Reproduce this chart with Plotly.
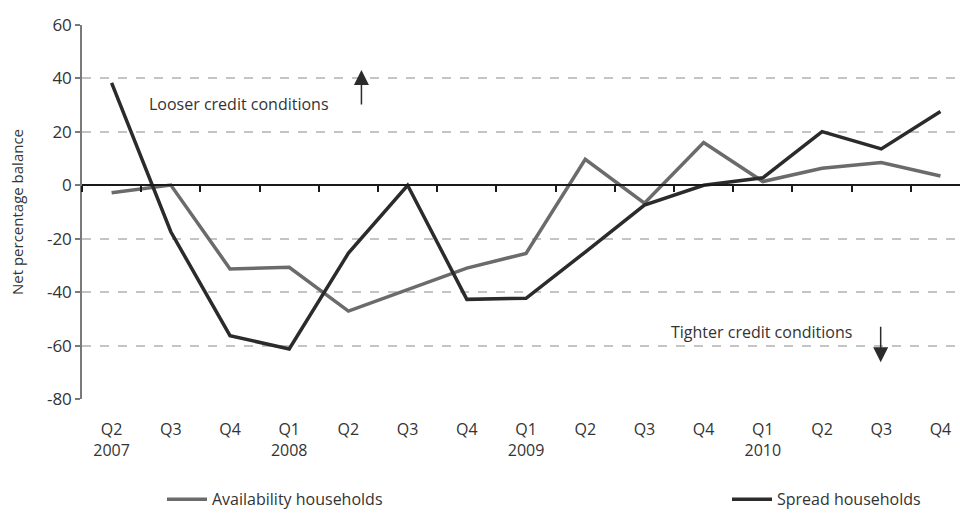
import plotly.graph_objects as go

# Survey quarters and year labels shown under them
quarters = ["Q2", "Q3", "Q4", "Q1", "Q2", "Q3", "Q4", "Q1", "Q2", "Q3", "Q4", "Q1", "Q2", "Q3", "Q4"]
years = ["2007", "", "", "2008", "", "", "", "2009", "", "", "", "2010", "", "", ""]

# Net percentage balances
availability = [-2.8, 0.1, -31.3, -30.7, -47.1, -38.9, -31.0, -25.5, 9.7, -6.7, 16.0, 1.4, 6.4, 8.5, 3.5]
spread = [38.3, -17.4, -56.3, -61.3, -25.4, 0.0, -42.7, -42.3, -25.0, -7.4, 0.0, 2.8, 20.1, 13.6, 27.6]

y_ticks = [-80, -60, -40, -20, 0, 20, 40, 60]

idx = list(range(len(quarters)))
ticktext = [q + ("<br>" + y if y else "<br> ") for q, y in zip(quarters, years)]

FONT = "Open Sans"
TXT = "#333333"
GREY = "#6b6b6b"
DARK = "#2b2b2b"

fig = go.Figure()

fig.add_trace(go.Scatter(
    x=idx, y=availability, mode="lines", name="Availability households",
    line=dict(color=GREY, width=3.5), legend="legend",
))
fig.add_trace(go.Scatter(
    x=idx, y=spread, mode="lines", name="Spread households",
    line=dict(color=DARK, width=3.5), legend="legend2",
))
# carrier for the zero-line axis with quarter boundary ticks
fig.add_trace(go.Scatter(
    x=idx, y=[0] * len(idx), xaxis="x2", mode="lines",
    line=dict(width=0), showlegend=False, hoverinfo="skip",
))

x_range = [-0.5, 14.33]
y_range = [-80, 60]
zero_pos = (0 - y_range[0]) / (y_range[1] - y_range[0])

fig.update_layout(
    width=960, height=513,
    margin=dict(l=82, r=0, t=25, b=114, autoexpand=False),
    paper_bgcolor="white", plot_bgcolor="white",
    font=dict(family=FONT, size=16, color=TXT),
    xaxis=dict(
        range=x_range, tickmode="array", tickvals=idx, ticktext=ticktext,
        showgrid=False, zeroline=False, showline=False, ticks="",
        tickfont=dict(size=16, color=TXT), ticklabelstandoff=19,
        automargin=False,
    ),
    xaxis2=dict(
        range=x_range, overlaying="x", anchor="free", position=zero_pos,
        side="bottom", showline=True, linecolor="#1a1a1a", linewidth=1.5,
        tickmode="array", tickvals=[i + 0.5 for i in idx[:-1]] + [-0.5],
        ticks="outside", ticklen=6, tickwidth=1.5, tickcolor="#1a1a1a",
        showticklabels=False, showgrid=False, zeroline=False, automargin=False,
    ),
    yaxis=dict(
        range=y_range, tickmode="array", tickvals=y_ticks,
        ticktext=[str(v) for v in y_ticks],
        showgrid=True, gridcolor="#c4c4c4",
        gridwidth=1.5, griddash="dash", zeroline=False,
        showline=True, linecolor="#7a7a7a", linewidth=1.5,
        ticks="outside", ticklen=5, tickcolor="#7a7a7a", tickwidth=1.5,
        tickfont=dict(size=17, color=TXT), automargin=False,
        title=dict(text="Net percentage balance", font=dict(size=15, color=TXT), standoff=20),
    ),
    legend=dict(
        x=(162 - 82) / 878, y=-0.268, xanchor="left", yanchor="middle",
        bgcolor="rgba(0,0,0,0)", font=dict(size=16, color=TXT), itemwidth=40,
    ),
    legend2=dict(
        x=(727 - 82) / 878, y=-0.268, xanchor="left", yanchor="middle",
        bgcolor="rgba(0,0,0,0)", font=dict(size=16, color=TXT), itemwidth=40,
    ),
    showlegend=True,
)

fig.add_annotation(x=0.59, y=30.4, text="Looser credit conditions", showarrow=False,
                   xanchor="left", yanchor="middle", font=dict(size=16, color=TXT))
fig.add_annotation(x=9.41, y=-54.9, text="Tighter credit conditions", showarrow=False,
                   xanchor="left", yanchor="middle", font=dict(size=16, color=TXT))
fig.add_annotation(x=4.22, y=43.2, ax=0, ay=36, text="", showarrow=True,
                   arrowhead=2, arrowsize=2, arrowwidth=1.5, arrowcolor=DARK)
fig.add_annotation(x=12.99, y=-66.2, ax=0, ay=-37, text="", showarrow=True,
                   arrowhead=2, arrowsize=2, arrowwidth=1.5, arrowcolor=DARK)

fig.write_html("out.html")
